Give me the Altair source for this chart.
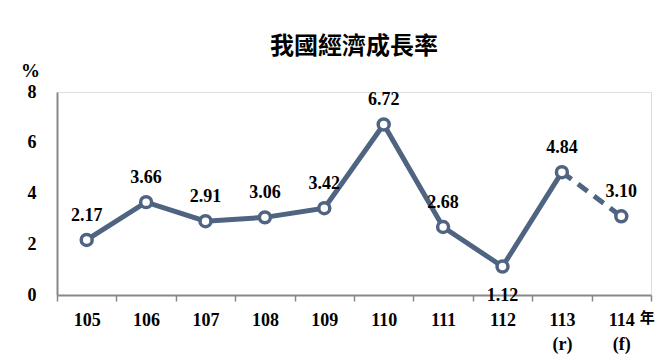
import altair as alt
import pandas as pd

years = ["105", "106", "107", "108", "109", "110", "111", "112", "113\n(r)", "114\n(f)"]
values = [2.17, 3.66, 2.91, 3.06, 3.42, 6.72, 2.68, 1.12, 4.84, 3.10]
labels = ["2.17", "3.66", "2.91", "3.06", "3.42", "6.72", "2.68", "1.12", "4.84", "3.10"]
label_pos = ["above"] * 7 + ["below"] + ["above"] * 2
segment = ["actual"] * 9 + ["forecast"]

df = pd.DataFrame({"year": years, "value": values, "label": labels, "pos": label_pos, "seg": segment})
solid_df = df[df["seg"] == "actual"]
dash_df = df.iloc[8:10]

COLOR = "#4E6480"
SERIF = "Liberation Serif"

x_enc = alt.X("year:N", sort=years,
              scale=alt.Scale(type="band", paddingInner=0, paddingOuter=0),
              axis=alt.Axis(title=None,
                            labelExpr="isValid(datum.value) ? split(datum.value, '\\n') : ''",
                            labelFont=SERIF, labelFontSize=18, labelFontWeight="bold",
                            labelColor="black", labelAngle=0, labelPadding=10,
                            labelLineHeight=24,
                            tickBand="extent", tickSize=6, tickColor="#888888",
                            domainColor="#888888", domainWidth=2, tickWidth=1.5,
                            grid=False))
y_enc = alt.Y("value:Q",
              scale=alt.Scale(domain=[0, 8]),
              axis=alt.Axis(title="%", titleAngle=0, titleX=-27, titleY=-22,
                            titleAlign="center", titleBaseline="middle",
                            titleFont=SERIF, titleFontSize=19, titleFontWeight="bold",
                            values=[0, 2, 4, 6, 8], labelFont=SERIF, labelFontSize=18,
                            labelFontWeight="bold", labelColor="black", labelPadding=21,
                            tickSize=0, domainColor="#888888", domainWidth=2, grid=False))

solid = alt.Chart(solid_df).mark_line(color=COLOR, strokeWidth=5).encode(x=x_enc, y=y_enc)
dashed = alt.Chart(dash_df).mark_line(color=COLOR, strokeWidth=5, strokeDash=[12, 8]).encode(
    x=alt.X("year:N", sort=years), y="value:Q")
points = alt.Chart(df).mark_point(shape="circle", size=120, filled=True, fill="white",
                                  stroke=COLOR, strokeWidth=3.5, opacity=1).encode(
    x=alt.X("year:N", sort=years), y="value:Q")
text_above = alt.Chart(df[df["pos"] == "above"]).mark_text(
    font=SERIF, fontSize=18, fontWeight="bold", color="black", dy=-24).encode(
    x=alt.X("year:N", sort=years), y="value:Q", text="label:N")
text_below = alt.Chart(df[df["pos"] == "below"]).mark_text(
    font=SERIF, fontSize=18, fontWeight="bold", color="black", dy=29).encode(
    x=alt.X("year:N", sort=years), y="value:Q", text="label:N")
nian_df = pd.DataFrame({"year": [years[-1]], "value": [0], "t": ["年"]})
nian = alt.Chart(nian_df).mark_text(font="Noto Sans CJK TC", fontSize=15, fontWeight="bold",
                                    color="black", dx=26, dy=23).encode(
    x=alt.X("year:N", sort=years), y="value:Q", text="t:N")

chart = alt.layer(solid, dashed, points, text_above, text_below, nian).properties(
    width=594, height=203,
    title=alt.TitleParams("我國經濟成長率", font="Noto Sans CJK TC", fontSize=24,
                          fontWeight="bold", color="black", anchor="middle", offset=2),
    autosize=alt.AutoSizeParams(type="none"),
    padding={"left": 57, "top": 92, "right": 21, "bottom": 59},
).configure_view(stroke=None).configure(background="white")

chart.save("out.html", embed_options={"renderer": "svg", "actions": False})
